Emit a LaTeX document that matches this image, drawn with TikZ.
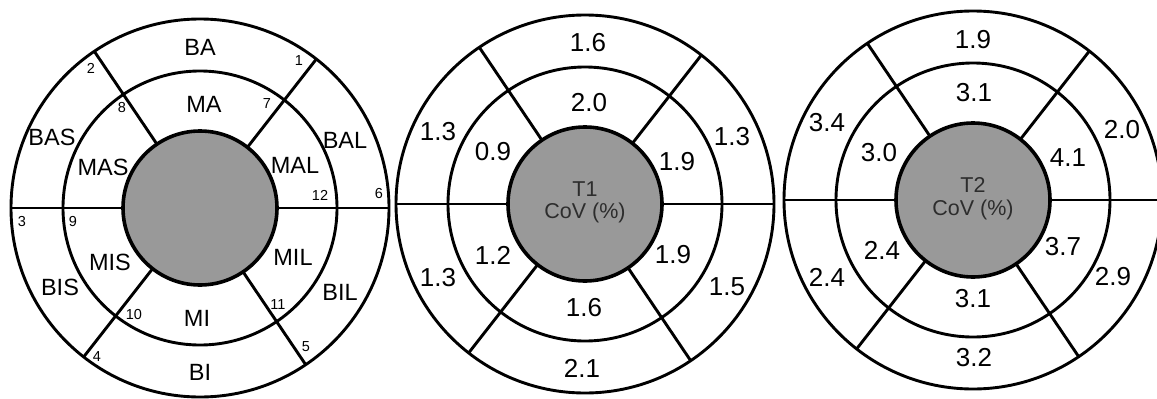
\documentclass[tikz,border=0pt]{standalone}
\usepackage{fontspec}
\setmainfont{Liberation Sans}
\definecolor{hubgray}{RGB}{153,153,153}
\definecolor{hubtext}{RGB}{45,45,45}
\tikzset{
  ring/.style={line width=2.9pt, draw=black},
  hub/.style={line width=3.6pt, draw=black, fill=hubgray},
  seg/.style={font=\fontsize{23.5}{23.5}\selectfont, inner sep=0pt, anchor=center},
  val/.style={font=\fontsize{26}{26}\selectfont, inner sep=0pt, anchor=center},
  num/.style={font=\fontsize{14.5}{14.5}\selectfont, inner sep=0pt, anchor=center},
  hubtxt/.style={font=\fontsize{21.5}{21.5}\selectfont, inner sep=0pt, anchor=base, text=hubtext},
}
\newcommand\bullseye{%
  \draw[ring] (0,0) circle (189);
  \draw[ring] (0,0) circle (137);
  \draw[ring] (-189,0) -- (-77,0);
  \draw[ring] (77,0) -- (189,0);
  \draw[ring] (-52:77) -- (-52:189);
  \draw[ring] (-124:77) -- (-124:189);
  \draw[ring] (128:77) -- (128:189);
  \draw[ring] (56:77) -- (56:189);
  \draw[hub] (0,0) circle (77);
}
\begin{document}
\begin{tikzpicture}[x=1pt,y=-1pt]
\useasboundingbox (0,0) rectangle (1157,399);
% ---------- left bullseye: segment names ----------
\begin{scope}[shift={(200,208)}]
\bullseye
\end{scope}
\node[seg] (ba)  at (200,47)  {BA};
\node[seg] (ma)  at (204,104) {MA};
\node[seg] (bas) at (52,137)  {BAS};
\node[seg] (mas) at (103,167) {MAS};
\node[seg] (mal) at (295,165) {MAL};
\node[seg] (bal) at (345,140) {BAL};
\node[seg] (mis) at (110,262) {MIS};
\node[seg] (bis) at (60,287)  {BIS};
\node[seg] (mil) at (293,257) {MIL};
\node[seg] (bil) at (340,292) {BIL};
\node[seg] (mi)  at (197,318) {MI};
\node[seg] (bi)  at (200,372) {BI};
\node[num] (n1)  at (299,61)  {1};
\node[num] (n2)  at (91,68)   {2};
\node[num] (n3)  at (22,222)  {3};
\node[num] (n4)  at (97,357)  {4};
\node[num] (n5)  at (306,347) {5};
\node[num] (n6)  at (379,194) {6};
\node[num] (n7)  at (267,104) {7};
\node[num] (n8)  at (122,108) {8};
\node[num] (n9)  at (73,222)  {9};
\node[num] (n10) at (134,315) {10};
\node[num] (n11) at (278,305) {11};
\node[num] (n12) at (320,195) {12};
% ---------- middle bullseye: T1 ----------
\begin{scope}[shift={(585,204)}]
\bullseye
\end{scope}
\node[hubtxt] (t1a) at (585,196) {T1};
\node[hubtxt] (t1b) at (585,218) {CoV (\%)};
\node[val] (a1)  at (588,43)  {1.6};
\node[val] (a2)  at (589,103) {2.0};
\node[val] (a3)  at (438,132) {1.3};
\node[val] (a4)  at (493,152) {0.9};
\node[val] (a5)  at (677,162) {1.9};
\node[val] (a6)  at (732,137) {1.3};
\node[val] (a7)  at (493,255) {1.2};
\node[val] (a8)  at (438,278) {1.3};
\node[val] (a9)  at (673,255) {1.9};
\node[val] (a10) at (727,287) {1.5};
\node[val] (a11) at (584,308) {1.6};
\node[val] (a12) at (582,368) {2.1};
% ---------- right bullseye: T2 ----------
\begin{scope}[shift={(973,200)}]
\bullseye
\end{scope}
\node[hubtxt] (t2a) at (973,192) {T2};
\node[hubtxt] (t2b) at (973,215) {CoV (\%)};
\node[val] (b1)  at (973,40)  {1.9};
\node[val] (b2)  at (974,93)  {3.1};
\node[val] (b3)  at (827,123) {3.4};
\node[val] (b4)  at (879,153) {3.0};
\node[val] (b5)  at (1068,158) {4.1};
\node[val] (b6)  at (1122,130) {2.0};
\node[val] (b7)  at (882,250) {2.4};
\node[val] (b8)  at (827,277) {2.4};
\node[val] (b9)  at (1063,247) {3.7};
\node[val] (b10) at (1113,277) {2.9};
\node[val] (b11) at (973,299) {3.1};
\node[val] (b12) at (974,358) {3.2};
\end{tikzpicture}
\end{document}
